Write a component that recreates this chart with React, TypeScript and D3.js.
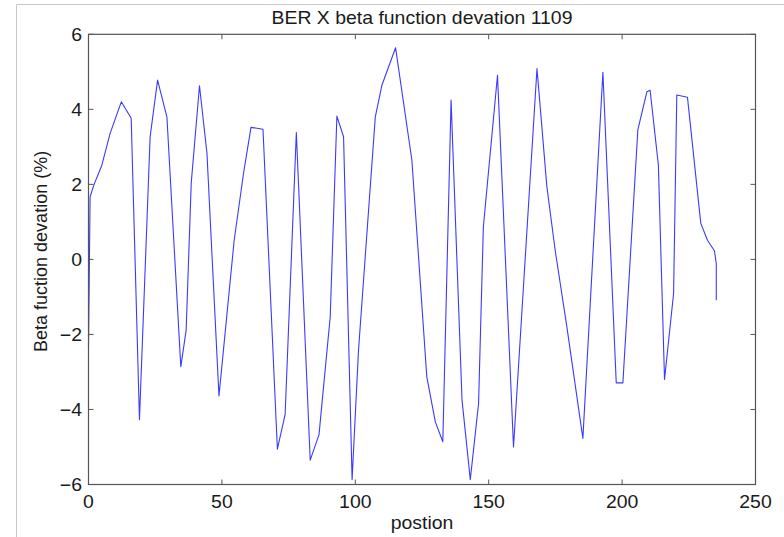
import React from "react";
import * as d3 from "d3";

const posX: number[] = [0, 0.6, 2.1, 5.0, 8.1, 12.3, 16.0, 19.1, 23.1, 25.9, 29.4, 34.6, 36.6, 38.5, 41.6, 44.4, 48.9, 54.6, 58.1, 60.9, 65.4, 70.8, 73.7, 77.9, 83.1, 86.4, 90.6, 93.1, 95.6, 98.8, 101.2, 107.5, 110.0, 115.1, 121.2, 126.8, 130.0, 132.8, 135.9, 140.0, 143.1, 146.2, 148.0, 153.3, 159.3, 168.1, 171.8, 174.9, 179.3, 185.3, 192.8, 197.8, 200.3, 205.9, 209.3, 210.5, 213.6, 215.9, 219.3, 220.5, 224.5, 229.5, 232.0, 234.6, 235.3, 235.3];
const devY: number[] = [-2.33, 1.67, 2.0, 2.51, 3.36, 4.2, 3.76, -4.27, 3.27, 4.78, 3.79, -2.86, -1.89, 2.03, 4.63, 2.83, -3.64, 0.51, 2.29, 3.52, 3.47, -5.06, -4.13, 3.38, -5.35, -4.67, -1.53, 3.82, 3.27, -5.87, -2.42, 3.8, 4.65, 5.64, 2.65, -3.13, -4.33, -4.86, 4.25, -3.75, -5.87, -3.84, 0.87, 4.91, -5.0, 5.09, 1.94, 0.25, -1.8, -4.77, 4.99, -3.29, -3.29, 3.45, 4.47, 4.51, 2.51, -3.2, -0.91, 4.38, 4.32, 0.96, 0.51, 0.23, -0.11, -1.09];
const xTicks: number[] = [0, 50, 100, 150, 200, 250];
const yTicks: number[] = [-6, -4, -2, 0, 2, 4, 6];
const title = "BER X beta function devation 1109";
const xLabel = "postion";
const yLabel = "Beta fuction devation (%)";

const font = "'Liberation Sans', Arial, sans-serif";
const FS = 18;
const SX = 1.08;

function HText(props: { x: number; y: number; anchor: string; children: React.ReactNode; dy?: string }) {
  return (
    <text
      transform={`translate(${props.x},${props.y}) scale(${SX},1)`}
      dy={props.dy}
      textAnchor={props.anchor}
      fontFamily={font}
      fontSize={FS}
      fill="#1a1a1a"
    >
      {props.children}
    </text>
  );
}

export default function App() {
  const W = 784, H = 537;
  const L = 88.5, R = 755.5, T = 34.3, B = 484.5;
  const x = d3.scaleLinear().domain([0, 250]).range([L, R]);
  const y = d3.scaleLinear().domain([-6, 6]).range([B, T]);
  const pts: [number, number][] = posX.map((v, i) => [v, devY[i]]);
  const line = d3.line<[number, number]>().x(d => x(d[0])).y(d => y(d[1]));
  const axisColor = "#555";
  const tl = 5;
  return (
    <svg width={W} height={H} style={{ position: "absolute", left: 0, top: 0, background: "#fff" }}>
      <rect x={0} y={0} width={W} height={H} fill="#fff" />
      <line x1={16.5} y1={4.5} x2={W} y2={4.5} stroke="#c8c8c8" strokeWidth={1} />
      <line x1={16.5} y1={4.5} x2={16.5} y2={H} stroke="#c8c8c8" strokeWidth={1} />
      <path d={line(pts) || ""} fill="none" stroke="#3a3aff" strokeWidth={1.1} strokeLinejoin="round" />
      <rect x={L} y={T} width={R - L} height={B - T} fill="none" stroke={axisColor} strokeWidth={1.2} />
      {xTicks.map(t => (
        <g key={"x" + t}>
          <line x1={x(t)} x2={x(t)} y1={B} y2={B - tl} stroke={axisColor} />
          <line x1={x(t)} x2={x(t)} y1={T} y2={T + tl} stroke={axisColor} />
          <HText x={x(t)} y={B + 23} anchor="middle">{t}</HText>
        </g>
      ))}
      {yTicks.map(t => (
        <g key={"y" + t}>
          <line x1={L} x2={L + tl} y1={y(t)} y2={y(t)} stroke={axisColor} />
          <line x1={R} x2={R - tl} y1={y(t)} y2={y(t)} stroke={axisColor} />
          <HText x={L - 6.5} y={y(t)} dy="0.36em" anchor="end">{t < 0 ? "\u2212" + Math.abs(t) : String(t)}</HText>
        </g>
      ))}
      <HText x={(L + R) / 2} y={24} anchor="middle">{title}</HText>
      <HText x={(L + R) / 2} y={529} anchor="middle">{xLabel}</HText>
      <text transform={`translate(47,${(T + B) / 2 - 8}) rotate(-90)`} textAnchor="middle" fontFamily={font} fontSize={FS} fill="#1a1a1a">{yLabel}</text>
    </svg>
  );
}
